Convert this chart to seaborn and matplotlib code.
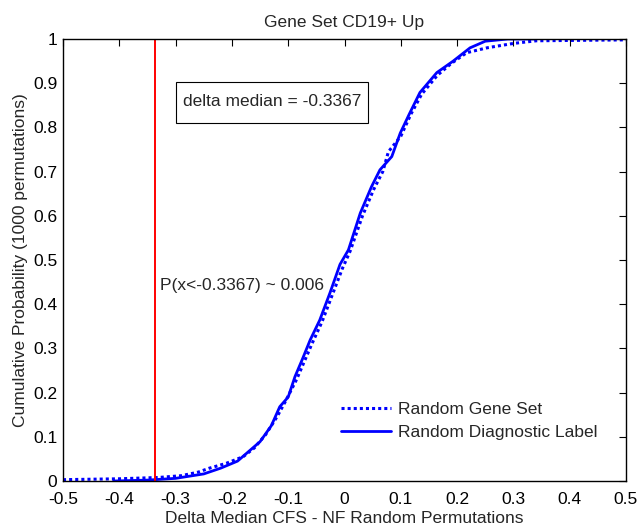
import numpy as np
import pandas as pd
import seaborn as sns
import matplotlib
matplotlib.use("Agg")
import matplotlib.pyplot as plt
from matplotlib.patches import Rectangle

# valores (CDF de 1000 permutaciones)
gene_set_x = [-0.5, -0.40, -0.33, -0.29, -0.26, -0.24, -0.21, -0.18, -0.16, -0.14,
              -0.12, -0.105, -0.085, -0.058, -0.04, -0.022, -0.004, 0.01, 0.032,
              0.052, 0.068, 0.078, 0.10, 0.118, 0.137, 0.165, 0.19, 0.217, 0.253,
              0.30, 0.341, 0.50]
gene_set_p = [0.003, 0.005, 0.008, 0.012, 0.02, 0.029, 0.04, 0.055, 0.075, 0.105,
              0.145, 0.18, 0.23, 0.31, 0.36, 0.42, 0.48, 0.52, 0.60,
              0.66, 0.70, 0.745, 0.78, 0.83, 0.875, 0.918, 0.945, 0.969, 0.98,
              0.99, 0.996, 0.998]

diag_x = [-0.41, -0.35, -0.30, -0.28, -0.25, -0.22, -0.19, -0.15, -0.13, -0.115,
          -0.10, -0.088, -0.075, -0.061, -0.044, -0.026, -0.008, 0.007, 0.028,
          0.048, 0.063, 0.084, 0.099, 0.115, 0.134, 0.164, 0.193, 0.223, 0.25,
          0.29, 0.338]
diag_p = [0.0, 0.002, 0.006, 0.010, 0.016, 0.029, 0.045, 0.089, 0.125, 0.168,
          0.19, 0.236, 0.275, 0.319, 0.364, 0.425, 0.49, 0.523, 0.606,
          0.666, 0.704, 0.734, 0.787, 0.83, 0.879, 0.924, 0.95, 0.98, 0.995,
          1.0, 1.0]

x_ticks = [-0.5, -0.4, -0.3, -0.2, -0.1, 0, 0.1, 0.2, 0.3, 0.4, 0.5]
x_labels = ["-0.5", "-0.4", "-0.3", "-0.2", "-0.1", "0", "0.1", "0.2", "0.3", "0.4", "0.5"]
y_ticks = [0, 0.1, 0.2, 0.3, 0.4, 0.5, 0.6, 0.7, 0.8, 0.9, 1]
y_labels = ["0", "0.1", "0.2", "0.3", "0.4", "0.5", "0.6", "0.7", "0.8", "0.9", "1"]

delta_median = -0.3367
p_value = 0.006

sns.set_style("white")
plt.rcParams["font.family"] = ["Liberation Sans", "DejaVu Sans"]
fs = 12.5

fig = plt.figure(figsize=(6.38, 5.27), dpi=100)
ax = fig.add_axes([63 / 638, 1 - 481 / 527, 563 / 638, 442 / 527])

sns.lineplot(x=gene_set_x, y=gene_set_p, ax=ax, color="#0000ff", linewidth=2.2,
             linestyle=(0, (1, 1)), sort=False, estimator=None, label="Random Gene Set")
sns.lineplot(x=diag_x, y=diag_p, ax=ax, color="#0000ff", linewidth=2.0,
             sort=False, estimator=None, label="Random Diagnostic Label")
ax.axvline(delta_median, color="#ff0000", linewidth=1.4)

ax.set_xlim(-0.5, 0.5)
ax.set_ylim(0, 1)
ax.set_xticks(x_ticks)
ax.set_yticks(y_ticks)
ax.set_xticklabels(x_labels)
ax.set_yticklabels(y_labels)
ax.tick_params(direction="in", length=5, width=0.8, labelsize=fs, top=True, right=True,
               colors="black")
ax.tick_params(axis="x", pad=8)
ax.tick_params(axis="y", pad=4)
for s in ax.spines.values():
    s.set_visible(True)
    s.set_color("black")
    s.set_linewidth(1.0)

ax.set_title("Gene Set CD19+ Up", fontsize=fs, pad=9)
ax.set_xlabel("Delta Median CFS - NF Random Permutations", fontsize=fs, labelpad=3)
ax.set_ylabel("Cumulative Probability (1000 permutations)", fontsize=fs, labelpad=4)

# recuadro del texto
ax.add_patch(Rectangle((-0.299, 0.81), 0.341, 0.093, facecolor="white",
                       edgecolor="black", linewidth=0.8, zorder=3))
ax.text(-0.287, 0.859, "delta median = %.4f" % delta_median, fontsize=fs, va="center",
        zorder=4)
ax.text(-0.328, 0.443, "P(x<%.4f) ~ %.3f" % (delta_median, p_value), fontsize=fs, va="center")

leg = ax.legend(loc="upper left", bbox_to_anchor=(0.494, 0.178), frameon=False, fontsize=fs,
                borderaxespad=0, borderpad=0, handlelength=2.9, handletextpad=0.35,
                labelspacing=0.44)

fig.savefig("out.png", dpi=100)
